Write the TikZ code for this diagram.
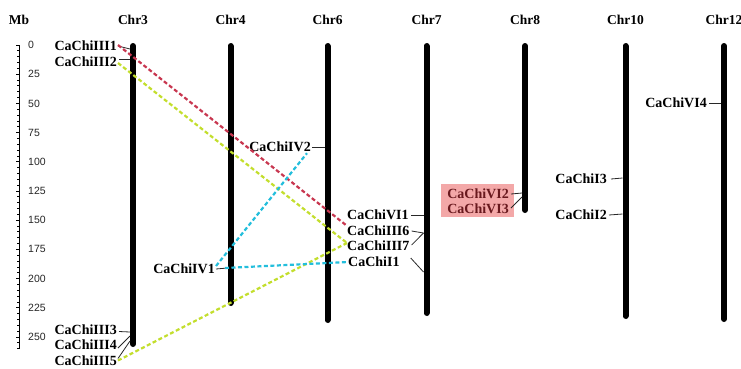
\documentclass[tikz,border=0pt]{standalone}
\usepackage{fontspec}
\setmainfont{Liberation Serif}
\newfontfamily\numfont{Liberation Sans}
\usetikzlibrary{calc}
\definecolor{redl}{RGB}{200,55,80}
\definecolor{greenl}{RGB}{195,222,45}
\definecolor{bluel}{RGB}{35,190,220}
\definecolor{pinkbox}{RGB}{243,168,168}
\definecolor{darkred}{RGB}{105,25,30}
\definecolor{conn}{RGB}{40,40,40}
\begin{document}
\begin{tikzpicture}[x=1pt,y=-1pt,
  chrbar/.style={line width=6pt,line cap=round},
  gene/.style={font=\fontsize{14}{14}\selectfont\bfseries,inner sep=0pt},
  chrlab/.style={font=\fontsize{13.5}{14}\selectfont\bfseries,inner sep=0pt},
  numlab/.style={font=\numfont\fontsize{10.5}{11}\selectfont,inner sep=0pt,anchor=west,text=black!85},
  conn/.style={draw=conn,line width=0.8pt},
  link/.style={line width=2.2pt,dash pattern=on 4pt off 2.5pt}
]
\useasboundingbox (0,0) rectangle (741,368);
% axis
\draw[line width=1.3pt] (19.5,45) -- (19.5,349);
\foreach \m in {0,5,...,260} \draw[line width=0.8pt] (19.5,{45+1.168*\m}) -- ++(-2.5,0);
\foreach \m in {0,25,...,250} {
  \draw[line width=0.8pt] (19.5,{45+1.168*\m}) -- ++(-4,0);
  \node[numlab] at (28,{45+1.168*\m}) {\m};
}
\node[chrlab] (mb) at (19,20) {Mb};
% chromosomes
\foreach \n/\x/\b in {3/133/347,4/230.5/306,6/327.5/323,7/426.5/316,8/525/213,10/625.5/319,12/724/322} {
  \node[chrlab] (chr\n) at (\x,20) {Chr\n};
  \draw[chrbar] (\x,46) -- (\x,\b-3);
}
% pink highlight
\fill[pinkbox] (441,184) rectangle (514,217);
% gene labels
\node[gene,anchor=east] (III1) at (117,46) {CaChiIII1};
\node[gene,anchor=east] (III2) at (117,62) {CaChiIII2};
\node[gene,anchor=east] (III3) at (117,329.5) {CaChiIII3};
\node[gene,anchor=east] (III4) at (117,345) {CaChiIII4};
\node[gene,anchor=east] (III5) at (117,360.5) {CaChiIII5};
\node[gene,anchor=east] (IV2) at (311,147) {CaChiIV2};
\node[gene,anchor=east] (IV1) at (215,269) {CaChiIV1};
\node[gene,anchor=west] (VI1) at (347,215) {CaChiVI1};
\node[gene,anchor=west] (III6) at (347,231) {CaChiIII6};
\node[gene,anchor=west] (III7) at (347,246) {CaChiIII7};
\node[gene,anchor=west] (I1) at (348,262) {CaChiI1};
\node[gene,anchor=east,text=darkred] (VI2) at (509,194) {CaChiVI2};
\node[gene,anchor=east,text=darkred] (VI3) at (509,209) {CaChiVI3};
\node[gene,anchor=east] (I3) at (607,179) {CaChiI3};
\node[gene,anchor=east] (I2) at (607,215) {CaChiI2};
\node[gene,anchor=east] (VI4) at (707,103) {CaChiVI4};
% positions on chromosomes
\coordinate (pIII1) at (130,49);
\coordinate (pIII2) at (130,59);
\coordinate (pIII3) at (130,332);
\coordinate (pIII4) at (130,336);
\coordinate (pIII5) at (130,341);
\coordinate (pIV1) at (227.5,268);
\coordinate (pIV2) at (324.5,147);
\coordinate (pVI1) at (423.5,215);
\coordinate (pIII6) at (423.5,233);
\coordinate (pI1) at (423.5,272);
\coordinate (pVI2) at (522,193);
\coordinate (pVI3) at (522,197);
\coordinate (pI3) at (622.5,178);
\coordinate (pI2) at (622.5,214);
\coordinate (pVI4) at (721,103);
% short connectors
\draw[conn] ($(III1.east)+(1,0)$) -- (pIII1);
\draw[conn] ($(III2.east)+(2,-3)$) -- (pIII2);
\draw[conn] ($(III3.east)+(2,2)$) -- (pIII3);
\draw[conn] ($(III4.east)+(1,3)$) -- (pIII4);
\draw[conn] ($(III5.east)+(1,-2)$) -- (pIII5);
\draw[conn] ($(IV1.east)+(1,0)$) -- (pIV1);
\draw[conn] ($(IV2.east)+(1,0)$) -- (pIV2);
\draw[conn] ($(VI1.east)+(2,0)$) -- (pVI1);
\draw[conn] ($(III6.east)+(2,0)$) -- (pIII6);
\draw[conn] ($(III7.east)+(2,-1)$) -- (pIII6);
\draw[conn] ($(I1.east)+(11,-4)$) -- (pI1);
\draw[conn] ($(VI2.east)+(2,0)$) -- (pVI2);
\draw[conn] ($(VI3.east)+(2,-1)$) -- (pVI3);
\draw[conn] ($(I3.east)+(4,0)$) -- (pI3);
\draw[conn] ($(I2.east)+(2,0)$) -- (pI2);
\draw[conn] ($(VI4.east)+(2,0)$) -- (pVI4);
% duplication links
\draw[link,redl] ($(III1.east)+(1,-1)$) -- (III6.north west);
\draw[link,greenl] ($(III2.east)+(1,1)$) -- ($(III7.west)+(0,-3)$);
\draw[link,greenl] ($(III5.east)+(1,0)$) -- ($(III7.west)+(0,-3)$);
\draw[link,bluel] ($(IV1.east)+(1,-3)$) -- ($(IV2.south east)+(-4,1)$);
\draw[link,bluel] ($(IV1.east)+(10,-1)$) -- (I1.west);
\end{tikzpicture}
\end{document}
